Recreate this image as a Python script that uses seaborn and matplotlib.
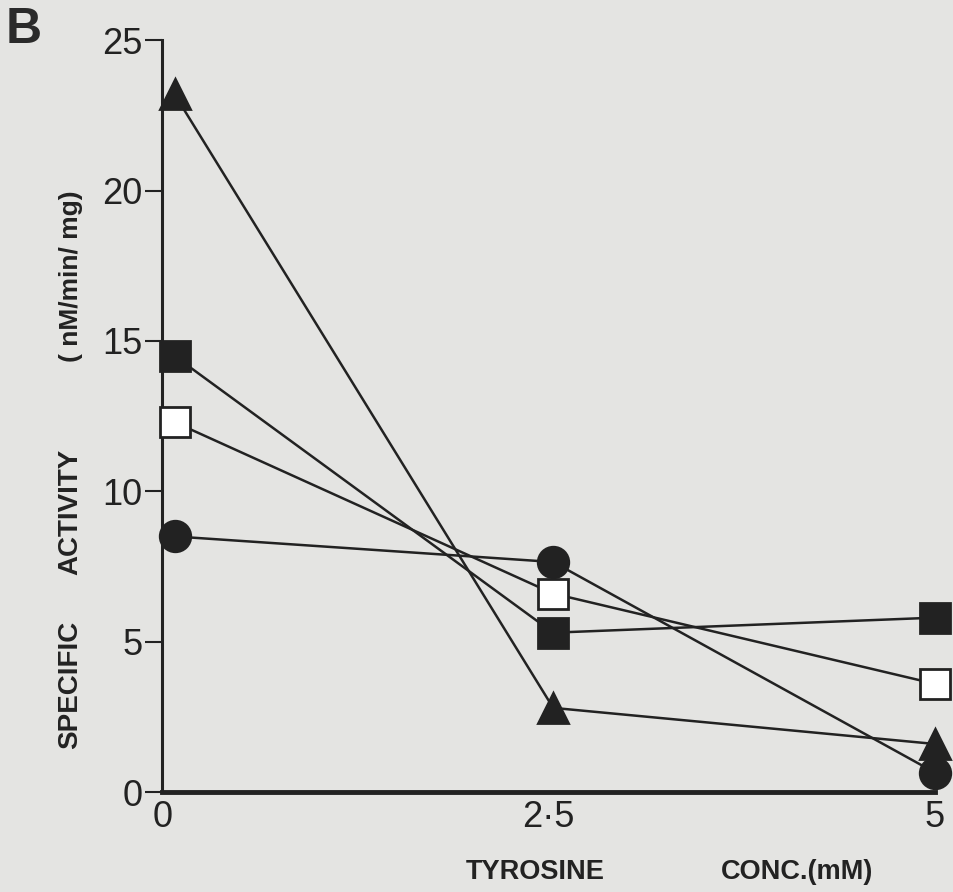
import numpy as np
import pandas as pd
import seaborn as sns
import matplotlib.pyplot as plt

# tyrosine concentration (mM) and specific activity
conc = [0.08, 2.53, 5.0]
triangle_vals = [23.2, 2.8, 1.6]
filled_sq_vals = [14.5, 5.3, 5.8]
open_sq_vals = [12.3, 6.6, 3.6]
circle_vals = [8.5, 7.65, 0.65]

y_ticks = [0, 5, 10, 15, 20, 25]
x_ticks = [0, 2.5, 5]
x_tick_labels = ["0", "2·5", "5"]

bg = "#e4e4e2"
ink = "#222222"

sns.set_theme(style="ticks")
plt.rcParams["font.family"] = ["Liberation Sans", "DejaVu Sans"]

fig = plt.figure(figsize=(9.54, 8.92), dpi=100, facecolor=bg)
ax = fig.add_axes([0.170, 0.112, 0.810, 0.843])
ax.set_facecolor(bg)

series = [
    (circle_vals, "o", ink),
    (open_sq_vals, "s", "white"),
    (filled_sq_vals, "s", ink),
    (triangle_vals, "^", ink),
]
for vals, mk, face in series:
    sns.lineplot(x=conc, y=vals, ax=ax, color=ink, lw=1.8, marker=mk,
                 markersize=22, mfc=face, mec=ink, mew=2.0, clip_on=False,
                 zorder=3)

ax.set_xlim(0, 5)
ax.set_ylim(0, 25)
ax.set_xticks(x_ticks)
ax.set_xticklabels(x_tick_labels)
ax.set_yticks(y_ticks)
ax.tick_params(axis="y", length=12, width=1.5, color=ink, labelsize=26,
               labelcolor=ink, pad=2)
ax.tick_params(axis="x", length=0, labelsize=26, labelcolor=ink, pad=6)
for side in ["top", "right"]:
    ax.spines[side].set_visible(False)
ax.spines["left"].set_linewidth(2.2)
ax.spines["left"].set_color(ink)
ax.spines["bottom"].set_linewidth(3.5)
ax.spines["bottom"].set_color(ink)

# axis titles, spaced like the original
fig.text(0.074, 0.232, "SPECIFIC", rotation=90, ha="center", va="center",
         fontsize=20, fontweight="bold", color=ink)
fig.text(0.074, 0.426, "ACTIVITY", rotation=90, ha="center", va="center",
         fontsize=20, fontweight="bold", color=ink)
fig.text(0.074, 0.69, "( nM/min/ mg)", rotation=90, ha="center", va="center",
         fontsize=19, fontweight="bold", color=ink)
fig.text(0.561, 0.022, "TYROSINE", ha="center", va="center",
         fontsize=19.5, fontweight="bold", color=ink)
fig.text(0.835, 0.022, "CONC.(mM)", ha="center", va="center",
         fontsize=19.5, fontweight="bold", color=ink)

fig.text(0.025, 0.966, "B", ha="center", va="center", fontsize=36,
         fontweight="bold", color="#2a2a2a")

fig.savefig("out.png", dpi=100, facecolor=bg)
